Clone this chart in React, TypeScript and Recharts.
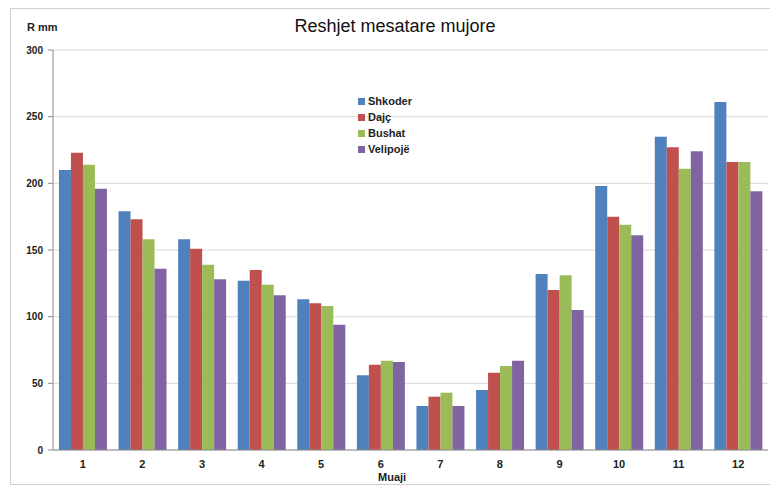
import { Bar, BarChart, CartesianGrid, XAxis, YAxis } from "recharts"

const months = ["1", "2", "3", "4", "5", "6", "7", "8", "9", "10", "11", "12"]
const shkoder = [210, 179, 158, 127, 113, 56, 33, 45, 132, 198, 235, 261]
const dajc = [223, 173, 151, 135, 110, 64, 40, 58, 120, 175, 227, 216]
const bushat = [214, 158, 139, 124, 108, 67, 43, 63, 131, 169, 211, 216]
const velipoje = [196, 136, 128, 116, 94, 66, 33, 67, 105, 161, 224, 194]
const yTicks = [0, 50, 100, 150, 200, 250, 300]

const series = [
  { key: "shkoder", name: "Shkoder", color: "#4F81BD" },
  { key: "dajc", name: "Dajç", color: "#C0504D" },
  { key: "bushat", name: "Bushat", color: "#9BBB59" },
  { key: "velipoje", name: "Velipojë", color: "#8064A2" },
]

const data = months.map((m, i) => ({
  month: m,
  shkoder: shkoder[i],
  dajc: dajc[i],
  bushat: bushat[i],
  velipoje: velipoje[i],
}))

const font = "'Liberation Sans', Arial, sans-serif"

export default function App() {
  return (
    <div style={{ position: "absolute", left: 0, top: 0, width: 770, height: 487, background: "#fff", fontFamily: font }}>
      <div
        style={{
          position: "absolute",
          left: 10,
          top: 8,
          width: 770,
          height: 477,
          border: "1px solid #d0d0d0",
          boxSizing: "border-box",
        }}
      />
      <div style={{ position: "absolute", left: 27, top: 21, fontSize: 11, fontWeight: "bold", color: "#222" }}>R mm</div>
      <div style={{ position: "absolute", left: 0, width: 790, top: 16, textAlign: "center", fontSize: 18, color: "#111" }}>
        Reshjet mesatare mujore
      </div>
      <div style={{ position: "absolute", left: 378, top: 471, fontSize: 11, fontWeight: "bold", color: "#222" }}>Muaji</div>
      <div style={{ position: "absolute", left: 358, top: 93, zIndex: 2 }}>
        {series.map((s) => (
          <div key={s.key} style={{ display: "flex", alignItems: "center", height: 16 }}>
            <span style={{ width: 7, height: 7, background: s.color, marginRight: 3 }} />
            <span style={{ color: "#222", fontSize: 11, fontWeight: "bold" }}>{s.name}</span>
          </div>
        ))}
      </div>
      <BarChart
        width={770}
        height={487}
        data={data}
        margin={{ top: 50, right: 2, left: 10, bottom: 0 }}
        barCategoryGap="10%"
        barGap={0}
      >
        <CartesianGrid vertical={false} stroke="#d9d9d9" />
        <XAxis
          dataKey="month"
          height={37}
          stroke="#8c8c8c"
          tickLine={false}
          tick={{ fill: "#222", fontSize: 11, fontWeight: "bold", fontFamily: font }}
          tickMargin={4}
        />
        <YAxis
          width={43}
          domain={[0, 300]}
          ticks={yTicks}
          stroke="#8c8c8c"
          tickSize={5}
          tickMargin={5}
          tick={{ fill: "#222", fontSize: 10, fontWeight: "bold", fontFamily: font }}
        />
        {series.map((s) => (
          <Bar key={s.key} dataKey={s.key} name={s.name} fill={s.color} isAnimationActive={false} />
        ))}
      </BarChart>
    </div>
  )
}
